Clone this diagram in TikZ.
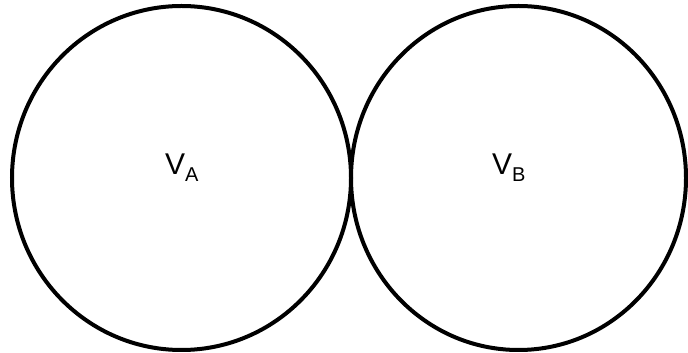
\documentclass[tikz,border=0pt]{standalone}
\usepackage{fontspec}
\setmainfont{Liberation Sans}
\begin{document}
\begin{tikzpicture}[x=1pt,y=1pt,
  ring/.style={draw=black,line width=4pt},
  lbl/.style={anchor=base west,inner sep=0pt,font=\fontsize{30}{32}\selectfont}]
\useasboundingbox (0,0) rectangle (688,353);
\draw[ring] (181.5,175) ellipse [x radius=169.5,y radius=172];
\draw[ring] (518.5,175) ellipse [x radius=167.5,y radius=172];
\node[lbl] (va) at (165,178) {V\raisebox{-7pt}{\fontsize{20}{22}\selectfont A}};
\node[lbl] (vb) at (492,178) {V\raisebox{-7pt}{\fontsize{20}{22}\selectfont B}};
\end{tikzpicture}
\end{document}
